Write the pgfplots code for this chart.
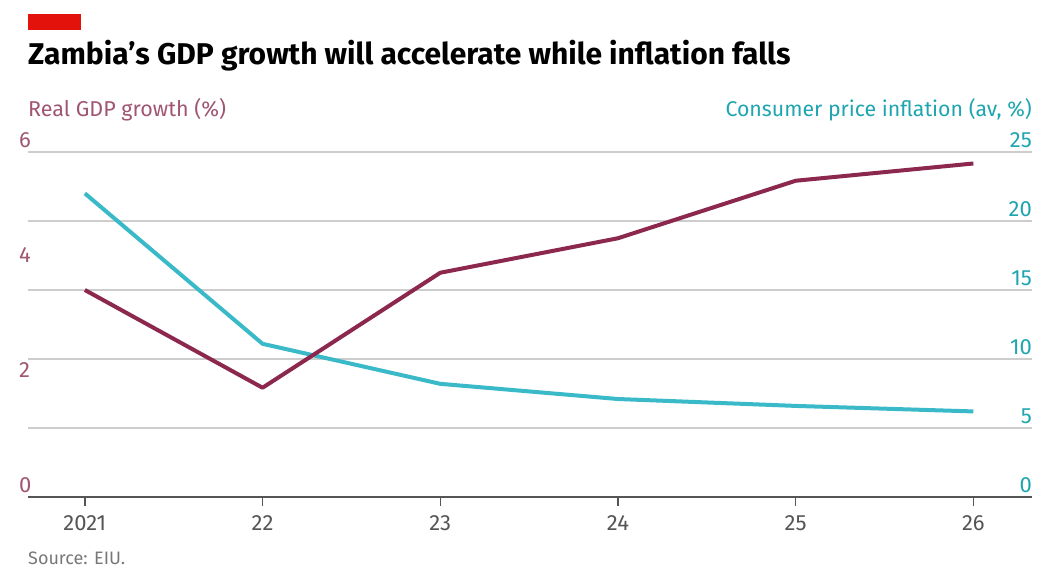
\documentclass[border=0pt]{standalone}
\usepackage{pgfplots}
\pgfplotsset{compat=1.18}
\usepackage{fontspec}
\setmainfont{Fira Sans}
\definecolor{gdp}{RGB}{140,40,78}
\definecolor{gdptext}{RGB}{160,85,115}
\definecolor{infl}{RGB}{58,186,200}
\definecolor{infltext}{RGB}{30,165,175}
\definecolor{gridc}{RGB}{205,205,205}
\definecolor{axisc}{RGB}{85,85,85}
\definecolor{econred}{RGB}{227,18,11}
\definecolor{srcc}{RGB}{120,120,120}
\begin{document}
\begin{tikzpicture}[x=1pt,y=1pt]
\useasboundingbox (0,0) rectangle (1044,569);
\fill[econred] (28,555) rectangle (81,539);
\node[anchor=base west, inner sep=0pt] at (28,504) {\fontsize{30}{34}\selectfont\bfseries Zambia’s GDP growth will accelerate while inflation falls};
\node[anchor=base west, inner sep=0pt, text=gdptext] at (28,452) {\fontsize{21.5}{25}\selectfont Real GDP growth (\%)};
\node[anchor=base east, inner sep=0pt, text=infltext] at (1032,452) {\fontsize{21.3}{25}\selectfont Consumer price inflation (av, \%)};
\node[anchor=base west, inner sep=0pt, text=srcc] at (28,4) {\fontsize{18}{20}\selectfont Source: EIU.};

% Inflation, right axis, with grid
\begin{axis}[
  at={(28pt,72pt)}, anchor=south west,
  scale only axis, width=1004pt, height=345pt,
  xmin=20.68, xmax=26.33, ymin=0, ymax=25,
  axis x line=none,
  axis y line*=right,
  y axis line style={draw=none},
  ytick={0,5,10,15,20,25},
  ymajorgrids,
  grid style={gridc, line width=1.3pt},
  major tick length=0pt,
  ytick style={draw=none},
  /pgf/number format/assume math mode=true,
  yticklabel style={anchor=south east, inner sep=0pt, yshift=4pt, xshift=0pt, text=infltext, font=\fontsize{22}{26}\selectfont},
  clip=false,
]
\addplot[infl, line width=4pt, line join=round] coordinates {
  (21,22.0) (22,11.1) (23,8.2) (24,7.1) (25,6.6) (26,6.2)
};
\end{axis}

% GDP, left axis
\begin{axis}[
  at={(28pt,72pt)}, anchor=south west,
  scale only axis, width=1004pt, height=345pt,
  xmin=20.68, xmax=26.33, ymin=0, ymax=6,
  axis x line*=bottom,
  axis y line*=left,
  y axis line style={draw=none},
  x axis line style={axisc, line width=2pt, -},
  ytick={0,2,4,6},
  ytick style={draw=none},
  xtick={21,22,23,24,25,26},
  xticklabels={2021,22,23,24,25,26},
  xtick style={axisc, line width=1.3pt},
  tick align=outside,
  major tick length=9pt,
  /pgf/number format/assume math mode=true,
  yticklabel style={anchor=south west, inner sep=0pt, yshift=4pt, xshift=0pt, text=gdptext, font=\fontsize{22}{26}\selectfont},
  xticklabel style={inner sep=0pt, yshift=-9pt, text=axisc, font=\fontsize{22}{26}\selectfont},
  clip=false,
]
\addplot[gdp, line width=4pt, line join=round] coordinates {
  (21,3.6) (22,1.9) (23,3.9) (24,4.5) (25,5.5) (26,5.8)
};
\end{axis}
\end{tikzpicture}
\end{document}
